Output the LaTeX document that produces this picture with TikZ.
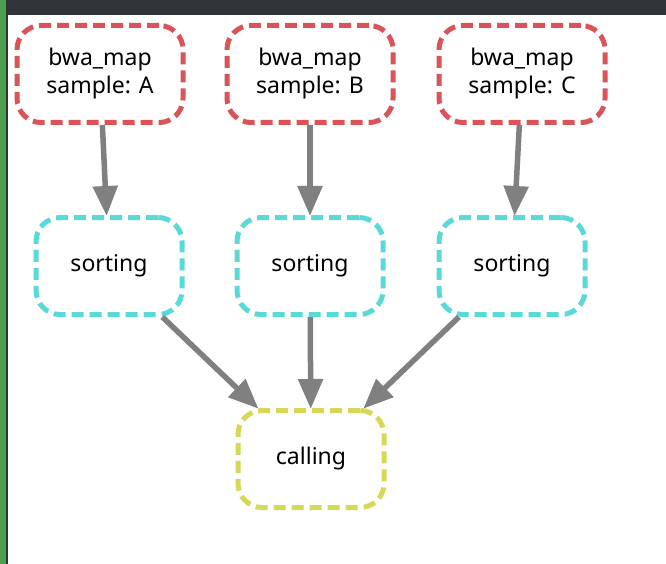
\documentclass[tikz,border=0pt]{standalone}
\usepackage{fontspec}
\setmainfont{Noto Sans}
\usepackage{xcolor}
\usepackage{tikz}
\usetikzlibrary{arrows.meta}

\definecolor{rulered}{HTML}{D95359}
\definecolor{rulecyan}{HTML}{5AD9D9}
\definecolor{ruleyellow}{HTML}{D6D957}
\definecolor{edgegray}{HTML}{808080}
\definecolor{barcolor}{HTML}{303338}
\definecolor{stripgreen}{HTML}{4C9E51}

\begin{document}
\begin{tikzpicture}[x=1pt, y=-1pt, font=\fontsize{23}{28}\selectfont,
        rule/.style={draw, line width=5pt, dash pattern=on 12pt off 6pt, rounded corners=24pt,
            align=center, inner sep=0pt, minimum height=97pt},
        edge/.style={draw=edgegray, line width=5.5pt, -{Triangle[length=30pt, width=24pt]}, shorten >=-1pt}]
            \useasboundingbox (0,0) rectangle (666,564);
            \fill[white] (0,0) rectangle (666,564);
            % window frame
            \fill[stripgreen] (0,0) rectangle (6,564);
            \fill[black!80] (6,0) rectangle (7.5,564);
            \fill[barcolor] (7.5,0) rectangle (666,15.5);
            % rules
            \foreach \s/\xa/\xb in {A/100/109, B/310/310, C/522/512} {
                \node[rule, draw=rulered, minimum width=166pt] (bwa\s) at (\xa,74) {bwa\_map\\sample: \s};
                \node[rule, draw=rulecyan, minimum width=146pt] (sort\s) at (\xb,266) {sorting};
            }
            \node[rule, draw=ruleyellow, minimum width=146pt] (calling) at (311,459) {calling};
            % edges
            \foreach \s in {A,B,C} {
                \draw[edge] (bwa\s) -- (sort\s);
                \draw[edge] (sort\s) -- (calling);
            }
        \end{tikzpicture}
\end{document}
